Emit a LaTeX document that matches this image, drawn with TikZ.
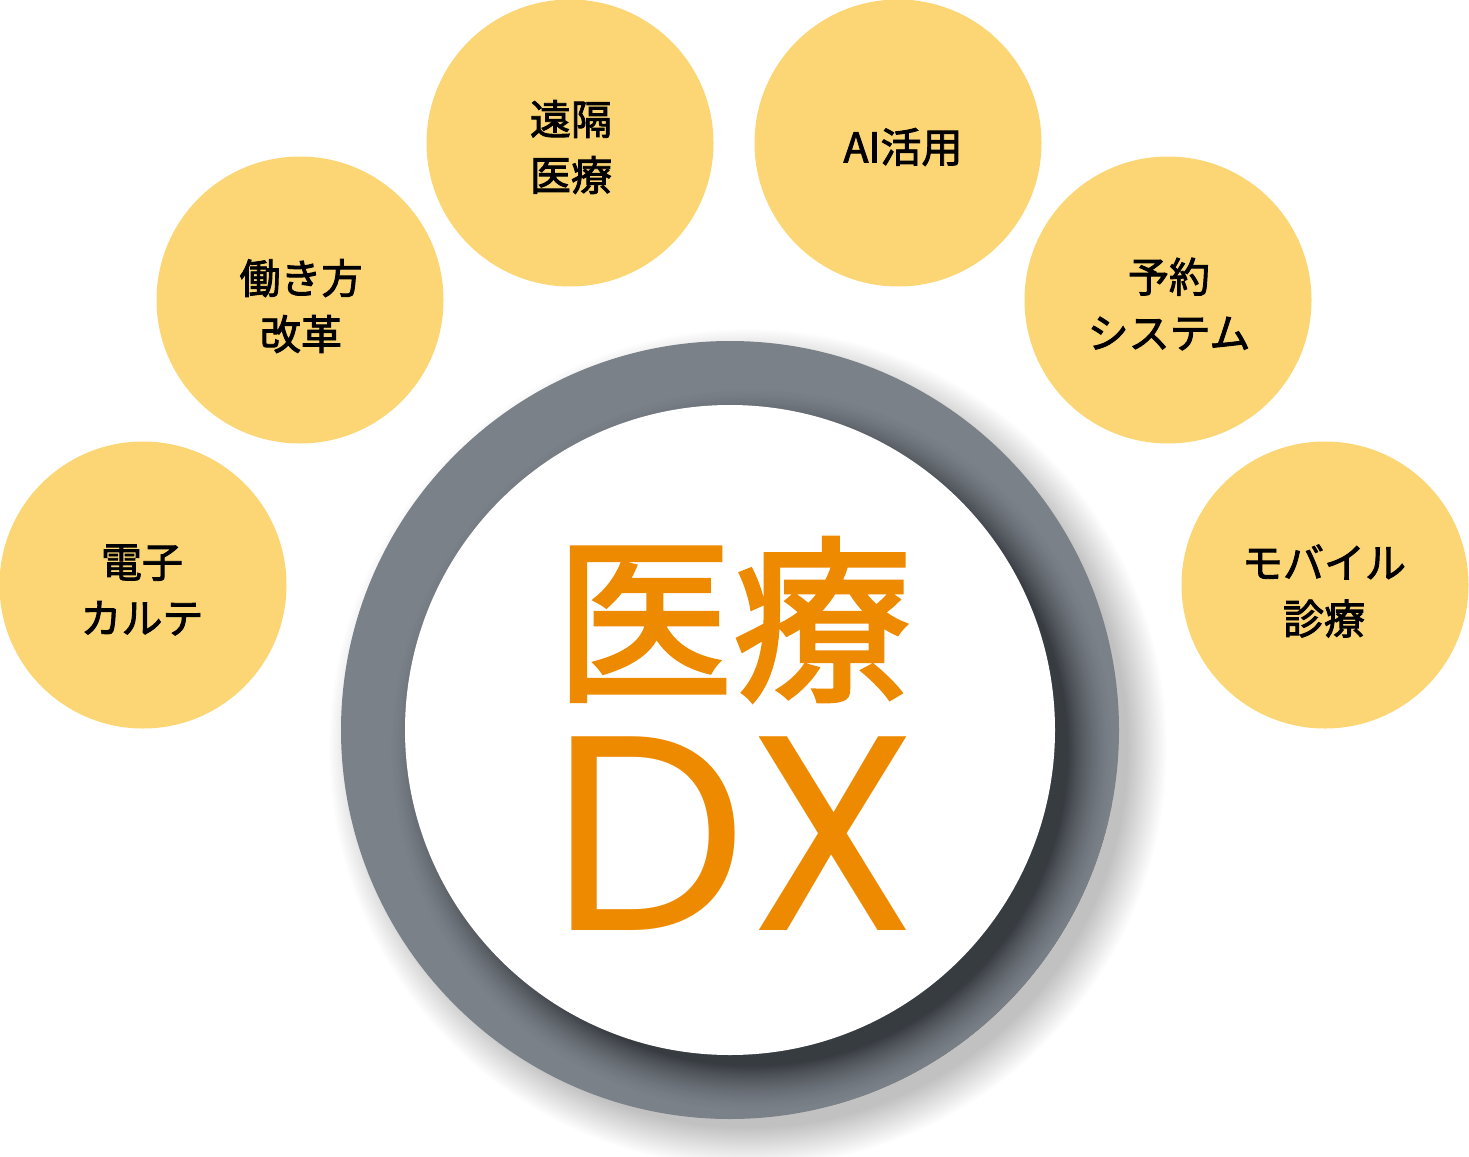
\documentclass[tikz,border=0pt]{standalone}
\usepackage{fontspec}
\newfontfamily\jp[FakeBold=2.2]{Noto Sans CJK JP}
\newfontfamily\jpm[FakeBold=2.2]{Noto Sans CJK JP}
\newfontfamily\dxfont{Poppins}
\definecolor{yel}{HTML}{FCD674}
\definecolor{ringgrey}{HTML}{7B8189}
\definecolor{shade}{HTML}{1A1E22}
\definecolor{dxorange}{HTML}{EE8A00}
\tikzset{
  bubble/.style={circle, fill=yel, minimum size=287pt, inner sep=0pt},
  lbl/.style={font=\jpm\fontsize{41}{56}\selectfont, align=center, text=black, inner sep=0pt},
}
\begin{document}
\begin{tikzpicture}[x=1pt,y=-1pt]
\useasboundingbox (0,0) rectangle (1469,1156);
% outer soft shadow of the ring
\foreach \i in {0,...,30} \fill[black,opacity=0.006] (748,748) circle ({380+\i*1.3});
% ring
\node[circle, fill=ringgrey, minimum size=778pt, inner sep=0pt] (ring) at (730,730) {};
% inner shadow cast by the white disc onto the ring
\begin{scope}
  \clip (730,730) circle (389);
  \foreach \i in {40,39,...,0} {
    \pgfmathsetmacro{\p}{(1-\i/40)^1.6*70}
    \fill[shade!\p!ringgrey] (752,750) circle ({316+\i*1.2});
  }
\end{scope}
% white disc
\node[circle, fill=white, minimum size=650pt, inner sep=0pt] (disc) at (730,730) {};
% centre title
\node[anchor=base, text=dxorange, font=\jp\fontsize{178}{178}\selectfont, inner sep=0pt] (title) at (733,687) {医療};
\node[anchor=base, text=dxorange, font=\dxfont\fontsize{278}{278}\selectfont, inner sep=0pt] (dx) at (735,930) {DX};
% bubbles
\node[bubble] (b1) at (143,585) {};
\node[bubble] (b2) at (300,300) {};
\node[bubble] (b3) at (570,143) {};
\node[bubble] (b4) at (898,143) {};
\node[bubble] (b5) at (1168,300) {};
\node[bubble] (b6) at (1325,585) {};
\node[lbl] (t1) at (142,590) {電子\\カルテ};
\node[lbl] (t2) at (301,306) {働き方\\改革};
\node[lbl] (t3) at (571,147) {遠隔\\医療};
\node[lbl] (t4) at (903,147) {AI活用};
\node[lbl] (t5) at (1169,304) {予約\\システム};
\node[lbl] (t6) at (1324,591) {モバイル\\診療};
\end{tikzpicture}
\end{document}
